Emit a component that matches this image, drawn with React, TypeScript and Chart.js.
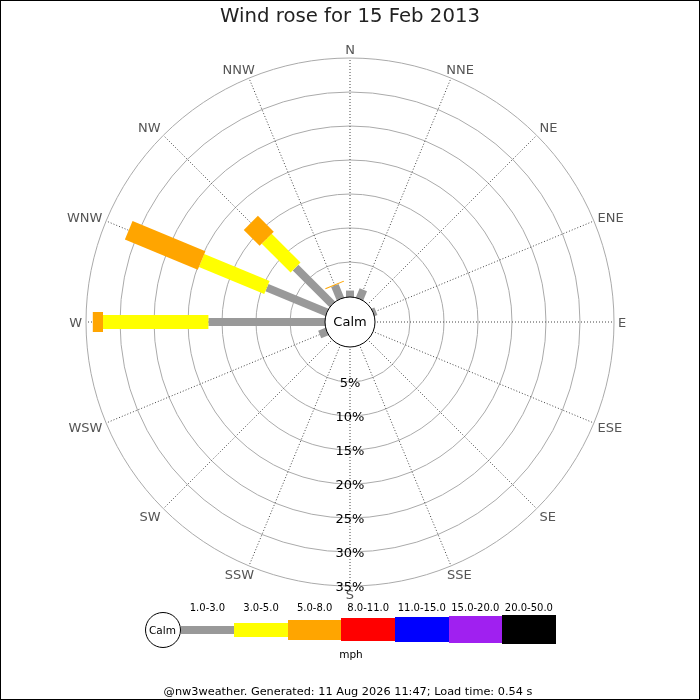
import { useEffect, useRef } from "react"
import { Chart, registerables, type Plugin } from "chart.js"

Chart.register(...registerables)

const directions = ["N", "NNE", "NE", "ENE", "E", "ESE", "SE", "SSE", "S", "SSW", "SW", "WSW", "W", "WNW", "NW", "NNW"]
const speedClasses = ["1.0-3.0", "3.0-5.0", "5.0-8.0", "8.0-11.0", "11.0-15.0", "15.0-20.0", "20.0-50.0"]

// % of the day per direction, one array per speed class (mph)
const speed1to3 = [0.8, 1.3, 0, 0.3, 0, 0, 0, 0, 0, 0, 0, 1.0, 17.0, 9.4, 7.5, 2.0]
const speed3to5 = [0, 0, 0, 0, 0, 0, 0, 0, 0, 0, 0, 0, 15.5, 10.4, 6.0, 0]
const speed5to8 = [0, 0, 0, 0, 0, 0, 0, 0, 0, 0, 0, 0, 1.5, 11.6, 3.3, 0.15]
const speed8to11 = [0, 0, 0, 0, 0, 0, 0, 0, 0, 0, 0, 0, 0, 0, 0, 0]
const speed11to15 = [0, 0, 0, 0, 0, 0, 0, 0, 0, 0, 0, 0, 0, 0, 0, 0]
const speed15to20 = [0, 0, 0, 0, 0, 0, 0, 0, 0, 0, 0, 0, 0, 0, 0, 0]
const speed20to50 = [0, 0, 0, 0, 0, 0, 0, 0, 0, 0, 0, 0, 0, 0, 0, 0]

const ringTicks = [5, 10, 15, 20, 25, 30, 35]

const classColors = ["#999999", "#ffff00", "#ffa500", "#ff0000", "#0000ff", "#a020f0", "#000000"]
const barWidths = [8, 14, 20, 23, 25, 27, 29]
const FONT = "'DejaVu Sans', sans-serif"
// room for the calm circle, in % units
const calmOffset = -26 / 6.8

const series = [speed1to3, speed3to5, speed5to8, speed8to11, speed11to15, speed15to20, speed20to50]

// stacked totals, inner class first
const stacked: number[][] = []
series.forEach((s, k) => {
  stacked.push(s.map((v, i) => v + (k > 0 ? stacked[k - 1][i] : 0)))
})

const rosePlugin: Plugin<"radar"> = {
  id: "rose",
  afterDatasetsDraw(chart) {
    const scale: any = chart.scales.r
    const ctx = chart.ctx
    ctx.save()
    ctx.lineCap = "butt"
    directions.forEach((_, i) => {
      let base = scale.min
      chart.data.datasets.forEach((ds, k) => {
        const v = ds.data[i] as number
        if (v > Math.max(base, 0)) {
          const p0 = scale.getPointPosition(i, scale.getDistanceFromCenterForValue(base))
          const p1 = scale.getPointPosition(i, scale.getDistanceFromCenterForValue(v))
          ctx.strokeStyle = classColors[k]
          ctx.lineWidth = barWidths[k]
          ctx.beginPath()
          ctx.moveTo(p0.x, p0.y)
          ctx.lineTo(p1.x, p1.y)
          ctx.stroke()
          base = v
        }
      })
    })

    // calm circle
    const calmR = scale.getDistanceFromCenterForValue(0) - 1
    ctx.beginPath()
    ctx.arc(scale.xCenter, scale.yCenter, calmR, 0, Math.PI * 2)
    ctx.fillStyle = "#ffffff"
    ctx.fill()
    ctx.lineWidth = 1
    ctx.strokeStyle = "#000000"
    ctx.stroke()

    ctx.fillStyle = "#000000"
    ctx.textAlign = "center"
    ctx.textBaseline = "middle"
    ctx.font = `13px ${FONT}`
    ctx.fillText("Calm", scale.xCenter, scale.yCenter + 1)

    // ring labels down the S axis
    ringTicks.forEach((v) => {
      const p = scale.getPointPosition(8, scale.getDistanceFromCenterForValue(v))
      ctx.fillText(`${v}%`, p.x, p.y + 1.5)
    })

    // compass labels, anchored by their corner nearest the ring
    const capH = 13 * 0.729
    ctx.fillStyle = "#555555"
    ctx.textAlign = "left"
    ctx.textBaseline = "alphabetic"
    directions.forEach((d, i) => {
      const ang = scale.getIndexAngle(i)
      const s = Math.sin(ang)
      const c = Math.cos(ang)
      const p = scale.getPointPosition(i, scale.drawingArea + 4)
      const w = ctx.measureText(d).width
      const fx = Math.abs(s) < 1e-9 ? 0 : Math.sign(s) * Math.min(1, Math.abs(s) / Math.SQRT1_2)
      const fy = Math.abs(c) < 1e-9 ? 0 : Math.sign(c) * Math.min(1, Math.abs(c) / Math.SQRT1_2)
      const left = p.x - w * (0.5 - 0.5 * fx)
      const top = p.y - capH * (0.5 + 0.5 * fy)
      ctx.fillText(d, left, top + capH)
    })
    ctx.restore()
  },
}

function WindRose() {
  const canvasRef = useRef<HTMLCanvasElement>(null)
  const chartRef = useRef<Chart | null>(null)

  useEffect(() => {
    if (!canvasRef.current) return
    if (chartRef.current) chartRef.current.destroy()

    chartRef.current = new Chart(canvasRef.current, {
      type: "radar",
      data: {
        labels: directions,
        datasets: speedClasses.map((label, k) => ({
          label,
          data: stacked[k],
          showLine: false,
          pointRadius: 0,
          borderWidth: 0,
          backgroundColor: "transparent",
        })),
      },
      options: {
        responsive: false,
        animation: false,
        events: [],
        layout: { padding: { top: 0, left: 86, right: 86, bottom: 114 } },
        plugins: {
          legend: { display: false },
          tooltip: { enabled: false },
          title: {
            display: true,
            text: "Wind rose for 15 Feb 2013",
            color: "#222222",
            font: { family: FONT, size: 19.7, weight: "normal", lineHeight: "22px" },
            padding: { top: 6, bottom: 30 },
          },
        },
        scales: {
          r: {
            min: calmOffset,
            max: 35,
            afterBuildTicks: (s: any) => {
              s.ticks = ringTicks.map((value) => ({ value }))
            },
            ticks: { display: false },
            grid: { circular: true, color: "#aaaaaa", lineWidth: 1 },
            angleLines: { color: "#444444", lineWidth: 1, borderDash: [1, 2] },
            pointLabels: { display: false },
          },
        },
      },
      plugins: [rosePlugin],
    })

    return () => {
      if (chartRef.current) {
        chartRef.current.destroy()
        chartRef.current = null
      }
    }
  }, [])

  const legendX0 = 180.7
  const legendStep = 53.57
  const legendY = 629.5

  return (
    <div style={{ position: "absolute", left: 0, top: 0, width: 700, height: 700, background: "#fff", fontFamily: FONT }}>
      <canvas ref={canvasRef} width={700} height={700} style={{ display: "block" }} />

      <div
        style={{
          position: "absolute",
          left: 144.5,
          top: legendY - 18,
          width: 36,
          height: 36,
          boxSizing: "border-box",
          border: "1px solid #000",
          borderRadius: "50%",
          fontSize: 10.5,
          lineHeight: "34px",
          textAlign: "center",
          color: "#000",
        }}
      >
        Calm
      </div>
      {speedClasses.map((label, k) => (
        <div key={label}>
          <div
            style={{
              position: "absolute",
              left: legendX0 + k * legendStep,
              top: legendY - barWidths[k] / 2,
              width: legendStep,
              height: barWidths[k],
              background: classColors[k],
            }}
          />
          <div
            style={{
              position: "absolute",
              left: legendX0 + k * legendStep - 10,
              width: legendStep + 20,
              top: 600.5,
              fontSize: 10,
              lineHeight: "14px",
              textAlign: "center",
              color: "#000",
            }}
          >
            {label}
          </div>
        </div>
      ))}
      <div style={{ position: "absolute", left: 0, width: 702, top: 647, fontSize: 10.5, lineHeight: "14px", textAlign: "center", color: "#000" }}>
        mph
      </div>
      <div style={{ position: "absolute", left: 0, width: 696, top: 684, fontSize: 11.3, lineHeight: "16px", textAlign: "center", color: "#000" }}>
        @nw3weather. Generated: 11 Aug 2026 11:47; Load time: 0.54 s
      </div>
      <div style={{ position: "absolute", left: 0, top: 0, width: 700, height: 700, boxSizing: "border-box", border: "1px solid #000", pointerEvents: "none" }} />
    </div>
  )
}

export default function App() {
  return <WindRose />
}
